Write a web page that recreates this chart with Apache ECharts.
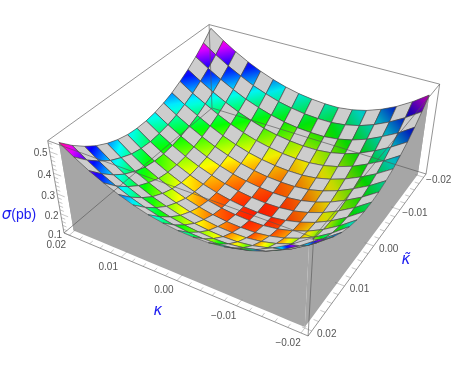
<!DOCTYPE html>
<html>
<head>
<meta charset="utf-8">
<style>html,body{margin:0;padding:0;background:#fff}#c{width:453px;height:371px}</style>
<script src="https://cdn.jsdelivr.net/npm/echarts@6/dist/echarts.min.js"></script>
</head>
<body>
<div id="c"></div>
<script>
// mesh of the surface
const kappaMesh = [0.02,0.0175,0.015,0.0125,0.01,0.0075,0.005,0.0025,0,-0.0025,-0.005,-0.0075,-0.01,-0.0125,-0.015,-0.0175,-0.02];
const kappaTildeMesh = [-0.02,-0.0175,-0.015,-0.0125,-0.01,-0.0075,-0.005,-0.0025,0,0.0025,0.005,0.0075,0.01,0.0125,0.015,0.0175,0.02];
// sigma in thousandths of a pb: one row per kappa, one column per kappa-tilde
const sigmaMilli = [
[550,505,465,431,403,378,360,347,340,339,344,357,377,404,440,483,535],
[504,462,423,390,361,337,318,304,296,292,296,307,329,355,392,437,491],
[464,422,385,352,325,300,281,266,256,251,254,264,284,311,349,396,452],
[429,388,351,318,290,266,247,232,222,218,220,230,251,278,316,362,419],
[399,357,320,288,260,236,217,202,193,188,190,201,221,248,287,333,390],
[374,333,296,264,236,211,193,178,169,164,167,177,198,225,263,310,366],
[354,312,276,243,216,191,173,158,149,145,147,158,178,206,244,291,347],
[339,298,261,229,202,177,159,145,135,131,133,144,165,192,231,278,334],
[330,288,252,220,192,168,150,136,126,122,125,135,156,184,223,269,326],
[325,284,248,215,188,164,146,132,122,118,121,132,153,180,219,266,323],
[325,284,248,216,189,165,147,133,124,119,122,133,154,182,221,268,325],
[334,293,257,225,198,174,156,142,133,129,132,143,164,192,231,278,335],
[351,310,274,242,216,192,174,160,151,147,150,161,182,210,249,296,354],
[377,336,300,268,241,218,200,186,177,173,176,188,209,237,276,323,380],
[411,370,335,303,276,252,235,221,212,208,212,223,244,273,312,359,416],
[454,412,374,343,315,292,275,262,255,253,258,270,293,320,358,405,460],
[505,461,423,390,364,340,324,312,307,307,313,328,349,378,415,460,513]
];
const kappaTicks = [0.02,0.01,0,-0.01,-0.02];
const kappaTickLabels = ['0.02','0.01','0.00','\u22120.01','\u22120.02'];
const sigmaTicks = [0.1,0.2,0.3,0.4,0.5];
const sigmaTickLabels = ['0.1','0.2','0.3','0.4','0.5'];

// camera of the 3D box
const boxHalf = 0.02105, sigmaLow = 0.1, sigmaHigh = 0.55, sigmaFloor = 0.105;
const cam = [[165.1,-159.4,-16.5,212],[46,83.4,-85,108],[-0.1149,-0.1785,-0.065,1]];
function project(k, t, s){
  const u=(boxHalf-k)/(2*boxHalf), v=(t+boxHalf)/(2*boxHalf), w=(s-sigmaLow)/(sigmaHigh-sigmaLow);
  const d=cam[2][0]*u+cam[2][1]*v+cam[2][2]*w+cam[2][3];
  return [(cam[0][0]*u+cam[0][1]*v+cam[0][2]*w+cam[0][3])/d,(cam[1][0]*u+cam[1][1]*v+cam[1][2]*w+cam[1][3])/d];
}
function hsv(h,s,v){
  h=((h%1)+1)%1;const i=Math.floor(h*6),f=h*6-i,p=v*(1-s),q=v*(1-f*s),t=v*(1-(1-f)*s);
  const r=[[v,t,p],[q,v,p],[p,v,t],[p,q,v],[t,p,v],[v,p,q]][i%6];
  return 'rgb('+r.map(x=>Math.round(x*255)).join(',')+')';
}
const hueOf = s => Math.max(0,(s-0.11)/0.44)*0.95;
const sig = (i,j)=>sigmaMilli[i][j]/1000;

const cells=[];
for(let i=0;i<16;i++)for(let j=0;j<16;j++)cells.push([i,j,i+j]);
cells.sort((a,b)=>a[2]-b[2]);

const idx=kappaMesh.map((_,n)=>n);
const wallPaths=[idx.map(n=>[0,n]),idx.map(n=>[n,0]),idx.map(n=>[16,n]),idx.map(n=>[n,16])];

const H=boxHalf,L=sigmaLow,T=sigmaHigh;
const boxEdges=[
 [[H,-H,L],[-H,-H,L]],[[H,H,L],[H,-H,L]],
 [[H,-H,L],[H,-H,T]],[[H,H,L],[H,H,T]],[[-H,-H,L],[-H,-H,T]],[[-H,H,L],[-H,H,T]],
 [[H,H,T],[H,-H,T]],[[H,-H,T],[-H,-H,T]],[[-H,-H,T],[-H,H,T]],[[-H,H,T],[H,H,T]],
 [[H,H,L],[-H,H,L]],[[-H,H,L],[-H,-H,L]]
];
const tickSegs=[];
for(let n=-10;n<=10;n++){
  const a=n*0.002,maj=n%5===0,len=(maj?0.035:0.018)*2*H;
  tickSegs.push([[a,H,L],[a,H-len,L]]);
  tickSegs.push([[-H,a,L],[-H+len,a,L]]);
}
for(let n=5;n<=27;n++){
  const s=n*0.02,maj=n%5===0,len=(maj?0.035:0.018)*2*H;
  tickSegs.push([[H,H,s],[H-len,H,s]]);
}
const textItems=[];
kappaTicks.forEach((k,n)=>{const p=project(k,H,L);textItems.push([p[0]-13,p[1]+10,kappaTickLabels[n]]);});
kappaTicks.forEach((t,n)=>{const p=project(-H,t,L);textItems.push([p[0]+15,p[1]+3,kappaTickLabels[n]]);});
sigmaTicks.forEach((s,n)=>{const p=project(H,H,s);textItems.push([p[0]-9,p[1]+2,sigmaTickLabels[n]]);});

const axisTitles=[[158,311,'{g|\u03ba}'],[406,260,'{g|\u03ba\u0303}'],[19,215,'{g|\u03c3}{n|(pb)}']];

const c=echarts.init(document.getElementById('c'),null,{renderer:'canvas'});
const base={type:'custom',coordinateSystem:'cartesian2d',clip:false,silent:true,animation:false,progressive:0,encode:{x:0,y:1}};
c.setOption({
 animation:false,
 grid:{left:0,right:0,top:0,bottom:0},
 xAxis:{type:'value',min:0,max:453,show:false},
 yAxis:{type:'value',min:0,max:371,inverse:true,show:false},
 series:[
  Object.assign({},base,{name:'walls',data:wallPaths.map((w,n)=>[n,0]),renderItem(p,api){
    const w=wallPaths[api.value(0)];
    const top=w.map(q=>project(kappaMesh[q[0]],kappaTildeMesh[q[1]],sig(q[0],q[1])));
    const bot=w.map(q=>project(kappaMesh[q[0]],kappaTildeMesh[q[1]],sigmaFloor)).reverse();
    return {type:'polygon',shape:{points:top.concat(bot).map(q=>api.coord(q))},style:{fill:'#a6a6a6'}};
  }}),
  Object.assign({},base,{name:'surface',data:cells,renderItem(p,api){
    const i=api.value(0),j=api.value(1);
    const id=[[i,j],[i+1,j],[i+1,j+1],[i,j+1]];
    const pts=id.map(q=>api.coord(project(kappaMesh[q[0]],kappaTildeMesh[q[1]],sig(q[0],q[1]))));
    const stroke='rgba(70,70,70,0.8)';
    if((i+j)%2===0) return {type:'polygon',shape:{points:pts},style:{fill:'#cdcdcd',stroke,lineWidth:0.8}};
    const zs=id.map(q=>sig(q[0],q[1]));
    let lo=0,hi=0;zs.forEach((z,n)=>{if(z<zs[lo])lo=n;if(z>zs[hi])hi=n;});
    const Su=((zs[1]+zs[2])-(zs[0]+zs[3]))/2/0.45*16*0.95;
    const Sv=((zs[2]+zs[3])-(zs[0]+zs[1]))/2/0.45*16*0.95;
    const b=1-0.35*Math.max(0,Math.min(1,(Su-Sv)/3.6));
    const stops=[0,0.25,0.5,0.75,1].map(o=>({offset:o,color:hsv(hueOf(zs[lo]+(zs[hi]-zs[lo])*o),1,b)}));
    const fill=new echarts.graphic.LinearGradient(pts[lo][0],pts[lo][1],pts[hi][0],pts[hi][1],stops,true);
    return {type:'polygon',shape:{points:pts},style:{fill,stroke,lineWidth:0.8}};
  }}),
  Object.assign({},base,{name:'box',data:boxEdges.map((e,n)=>[n,0]),renderItem(p,api){
    const e=boxEdges[api.value(0)];
    const a=api.coord(project(e[0][0],e[0][1],e[0][2])),b=api.coord(project(e[1][0],e[1][1],e[1][2]));
    return {type:'line',shape:{x1:a[0],y1:a[1],x2:b[0],y2:b[1]},style:{stroke:'rgba(85,85,85,0.7)',lineWidth:0.9}};
  }}),
  Object.assign({},base,{name:'ticks',data:tickSegs.map((e,n)=>[n,0]),renderItem(p,api){
    const e=tickSegs[api.value(0)];
    const a=api.coord(project(e[0][0],e[0][1],e[0][2])),b=api.coord(project(e[1][0],e[1][1],e[1][2]));
    return {type:'line',shape:{x1:a[0],y1:a[1],x2:b[0],y2:b[1]},style:{stroke:'rgba(120,120,120,0.6)',lineWidth:0.7}};
  }}),
  Object.assign({},base,{name:'labels',data:textItems.map((e,n)=>[e[0],e[1],n]),renderItem(p,api){
    const t=textItems[api.value(2)],q=api.coord([t[0],t[1]]);
    return {type:'text',style:{text:t[2],x:q[0],y:q[1],align:'center',verticalAlign:'middle',fill:'#555',font:'10px "Liberation Sans"'}};
  }}),
  Object.assign({},base,{name:'titles',data:axisTitles.map((e,n)=>[e[0],e[1],n]),renderItem(p,api){
    const t=axisTitles[api.value(2)],q=api.coord([t[0],t[1]]);
    return {type:'text',style:{text:t[2],x:q[0],y:q[1],align:'center',verticalAlign:'middle',
      rich:{g:{fill:'#1c1cf0',font:'italic 15px "DejaVu Sans"'},n:{fill:'#1c1cf0',font:'14px "Liberation Sans"'}}}};
  }})
 ]
});
</script>
</body>
</html>
